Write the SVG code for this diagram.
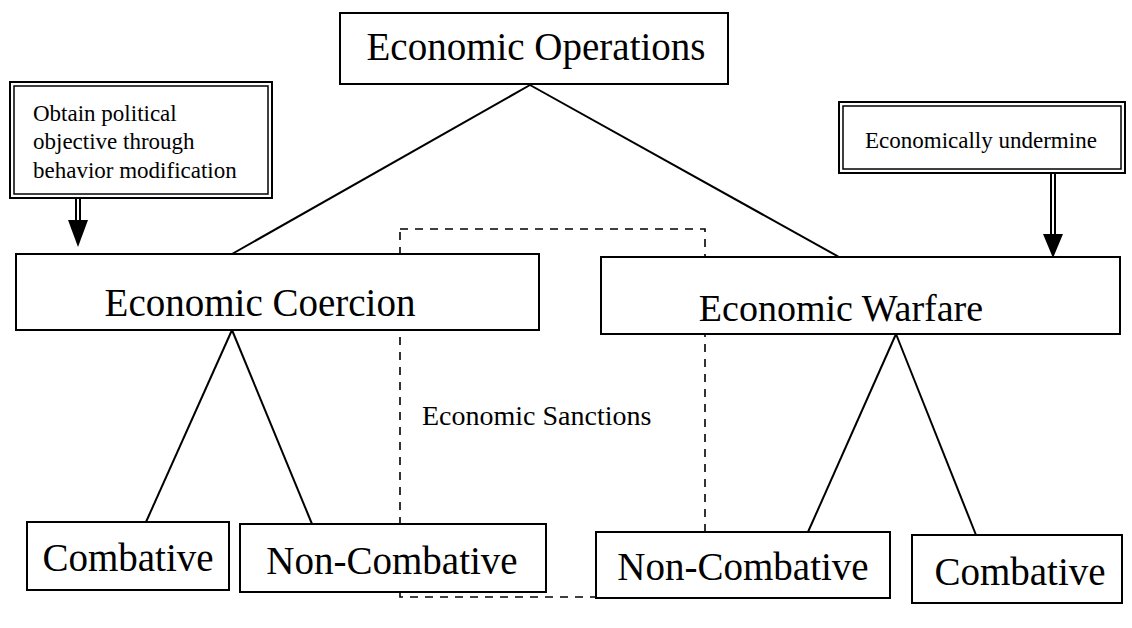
<svg xmlns="http://www.w3.org/2000/svg" width="1132" height="628" viewBox="0 0 1132 628">
<style>
.box{fill:#fff;stroke:#000;stroke-width:2}
.thin{fill:none;stroke:#000;stroke-width:1.5}
.t{font-family:"Liberation Serif","Times New Roman",serif;fill:#000}
.ln{stroke:#000;stroke-width:2;fill:none}
.dash{stroke:#000;stroke-width:1.6;fill:none;stroke-dasharray:8,7}
</style>
<rect width="1132" height="628" fill="#fff"/>
<g id="sanctions">
<rect class="dash" x="400" y="229" width="305" height="368"/>
<text class="t" x="422" y="425" font-size="28">Economic Sanctions</text>
</g>
<g id="connectors">
<line class="ln" x1="530" y1="85" x2="232" y2="254"/>
<line class="ln" x1="530" y1="85" x2="839" y2="257"/>
<line class="ln" x1="232" y1="330" x2="146" y2="522"/>
<line class="ln" x1="232" y1="330" x2="312" y2="524"/>
<line class="ln" x1="896" y1="334" x2="808" y2="532"/>
<line class="ln" x1="896" y1="334" x2="976" y2="535"/>
<line class="ln" x1="76" y1="198" x2="76" y2="222" stroke-width="1.5"/>
<line class="ln" x1="80" y1="198" x2="80" y2="222" stroke-width="1.5"/>
<polygon points="68,220 88,220 78,247" fill="#000"/>
<line class="ln" x1="1051" y1="173" x2="1051" y2="236" stroke-width="1.5"/>
<line class="ln" x1="1055" y1="173" x2="1055" y2="236" stroke-width="1.5"/>
<polygon points="1043,234 1063,234 1053,258" fill="#000"/>
</g>
<g id="operations">
<rect class="box" x="340" y="13" width="388" height="71"/>
<text class="t" x="536" y="60" font-size="39" text-anchor="middle">Economic Operations</text>
</g>
<g id="callout-left">
<rect class="box" x="10" y="82" width="262" height="116"/>
<rect class="thin" x="14" y="86" width="254" height="108"/>
<text class="t" x="33" y="121" font-size="23">Obtain political</text>
<text class="t" x="33" y="149" font-size="23">objective through</text>
<text class="t" x="33" y="178" font-size="23">behavior modification</text>
</g>
<g id="callout-right">
<rect class="box" x="839" y="102" width="286" height="71"/>
<rect class="thin" x="843" y="106" width="278" height="63"/>
<text class="t" x="865" y="148" font-size="23">Economically undermine</text>
</g>
<g id="coercion">
<rect class="box" x="16" y="254" width="523" height="76"/>
<text class="t" x="260" y="316" font-size="39" text-anchor="middle">Economic Coercion</text>
</g>
<g id="warfare">
<rect class="box" x="601" y="257" width="519" height="77"/>
<text class="t" x="841" y="321" font-size="38" text-anchor="middle">Economic Warfare</text>
</g>
<g id="coercion-combative">
<rect class="box" x="27" y="522" width="202" height="68"/>
<text class="t" x="128" y="571" font-size="39" text-anchor="middle">Combative</text>
</g>
<g id="coercion-noncombative">
<rect class="box" x="240" y="524" width="306" height="68"/>
<text class="t" x="392" y="574" font-size="39" text-anchor="middle">Non-Combative</text>
</g>
<g id="warfare-noncombative">
<rect class="box" x="596" y="532" width="294" height="66"/>
<text class="t" x="743" y="580" font-size="39" text-anchor="middle">Non-Combative</text>
</g>
<g id="warfare-combative">
<rect class="box" x="912" y="535" width="210" height="68"/>
<text class="t" x="1020" y="585" font-size="39" text-anchor="middle">Combative</text>
</g>
</svg>
